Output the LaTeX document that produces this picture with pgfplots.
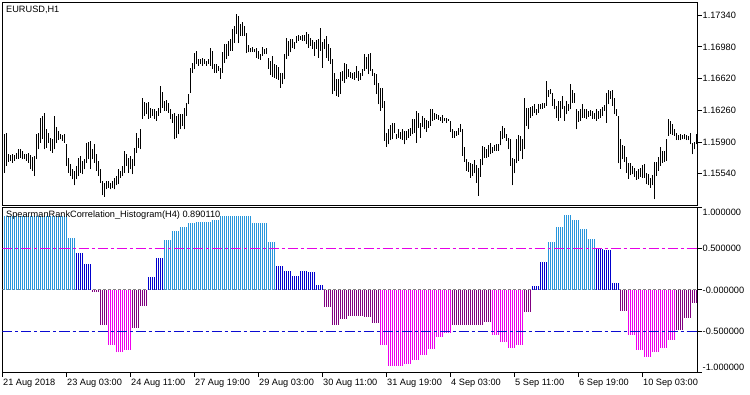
\documentclass[border=0pt]{standalone}
\usepackage{fontspec}
\setmainfont{Liberation Sans}
\usepackage{pgfplots}
\usepackage{pgfplotstable}
\pgfplotsset{compat=1.18}
\definecolor{hlblue}{RGB}{40,150,220}
\definecolor{hdblue}{RGB}{0,0,205}
\definecolor{hpurple}{RGB}{128,0,128}
\definecolor{hmag}{RGB}{238,0,238}
\definecolor{lvlmag}{RGB}{230,0,230}
\definecolor{lvlblue}{RGB}{10,10,210}

\pgfplotstableread{
h l
1.15995 1.15551
1.16006 1.15627
1.15760 1.15673
1.15752 1.15684
1.15760 1.15665
1.15749 1.15684
1.15771 1.15703
1.15816 1.15711
1.15816 1.15722
1.15798 1.15703
1.15760 1.15703
1.15760 1.15684
1.15779 1.15665
1.15749 1.15589
1.15733 1.15570
1.15741 1.15513
1.15987 1.15703
1.16006 1.15816
1.16177 1.15892
1.16195 1.15930
1.16233 1.15816
1.16052 1.15835
1.16006 1.15892
1.15949 1.15798
1.15930 1.15779
1.16195 1.15816
1.16074 1.15892
1.16025 1.15922
1.15987 1.15930
1.15976 1.15911
1.15987 1.15892
1.15873 1.15627
1.15722 1.15551
1.15646 1.15513
1.15589 1.15475
1.15570 1.15407
1.15627 1.15475
1.15722 1.15513
1.15741 1.15551
1.15684 1.15532
1.15711 1.15589
1.15892 1.15665
1.15900 1.15703
1.15911 1.15589
1.15816 1.15703
1.15873 1.15665
1.15760 1.15570
1.15684 1.15513
1.15589 1.15437
1.15456 1.15294
1.15437 1.15279
1.15456 1.15362
1.15456 1.15381
1.15437 1.15362
1.15456 1.15381
1.15494 1.15362
1.15513 1.15407
1.15589 1.15418
1.15570 1.15494
1.15627 1.15513
1.15798 1.15551
1.15760 1.15627
1.15722 1.15551
1.15741 1.15589
1.15703 1.15532
1.15835 1.15627
1.16006 1.15779
1.15949 1.15835
1.16052 1.15816
1.16404 1.16158
1.16355 1.16195
1.16347 1.16214
1.16355 1.16165
1.16290 1.16177
1.16279 1.16195
1.16271 1.16158
1.16252 1.16139
1.16290 1.16195
1.16537 1.16233
1.16469 1.16290
1.16366 1.16252
1.16378 1.16252
1.16347 1.16233
1.16271 1.16158
1.16214 1.16120
1.16233 1.15930
1.16195 1.15949
1.16214 1.15987
1.16214 1.16044
1.16214 1.16082
1.16290 1.16044
1.16347 1.16195
1.16442 1.16328
1.16745 1.16461
1.16802 1.16688
1.16916 1.16726
1.16935 1.16783
1.16840 1.16764
1.16840 1.16783
1.16859 1.16764
1.16840 1.16783
1.16821 1.16764
1.16840 1.16783
1.16972 1.16764
1.16935 1.16726
1.16783 1.16688
1.16783 1.16688
1.16764 1.16707
1.16745 1.16620
1.16916 1.16688
1.17010 1.16802
1.17010 1.16840
1.17048 1.16878
1.17067 1.16935
1.17181 1.16935
1.17219 1.17029
1.17351 1.17124
1.17325 1.17022
1.17238 1.17105
1.17257 1.17105
1.17219 1.17105
1.17135 1.16908
1.16999 1.16916
1.16972 1.16916
1.16984 1.16923
1.16961 1.16916
1.16972 1.16859
1.16935 1.16840
1.16897 1.16832
1.16984 1.16878
1.16961 1.16897
1.16972 1.16897
1.16859 1.16726
1.16821 1.16658
1.16878 1.16643
1.16783 1.16631
1.16772 1.16620
1.16756 1.16605
1.16688 1.16518
1.16681 1.16556
1.16897 1.16612
1.17086 1.16840
1.17048 1.16878
1.17075 1.16916
1.17075 1.16972
1.17037 1.16953
1.17105 1.17029
1.17113 1.17048
1.17105 1.17059
1.17113 1.17048
1.17113 1.17048
1.17151 1.17010
1.17124 1.16972
1.17086 1.16991
1.17059 1.16953
1.17037 1.16878
1.17059 1.16953
1.17075 1.16859
1.17189 1.16935
1.17037 1.16745
1.17067 1.16953
1.17105 1.16859
1.17010 1.16821
1.16972 1.16783
1.16840 1.16442
1.16688 1.16480
1.16620 1.16423
1.16612 1.16415
1.16696 1.16442
1.16707 1.16594
1.16794 1.16574
1.16783 1.16620
1.16726 1.16643
1.16696 1.16631
1.16688 1.16620
1.16696 1.16605
1.16764 1.16631
1.16707 1.16594
1.16688 1.16605
1.16726 1.16650
1.16897 1.16707
1.16870 1.16726
1.16897 1.16669
1.16908 1.16707
1.16726 1.16650
1.16688 1.16544
1.16669 1.16442
1.16574 1.16328
1.16518 1.16252
1.16518 1.16290
1.16366 1.15911
1.15999 1.15847
1.16052 1.15873
1.16090 1.15922
1.16112 1.15930
1.16112 1.15999
1.15987 1.15930
1.16044 1.15949
1.16014 1.15930
1.16044 1.15922
1.16025 1.15873
1.16025 1.15922
1.16052 1.15949
1.16063 1.15968
1.16158 1.15987
1.16165 1.16006
1.16252 1.15892
1.16233 1.16063
1.16120 1.15949
1.16195 1.16074
1.16177 1.16044
1.16150 1.16014
1.16139 1.16063
1.16279 1.16082
1.16271 1.16139
1.16226 1.16150
1.16214 1.16158
1.16203 1.16150
1.16188 1.16139
1.16203 1.16120
1.16177 1.16139
1.16177 1.16120
1.16158 1.16139
1.16139 1.16014
1.16052 1.15949
1.16025 1.15949
1.16025 1.15968
1.16063 1.15976
1.16101 1.16014
1.16052 1.15741
1.15847 1.15673
1.15711 1.15570
1.15673 1.15559
1.15665 1.15494
1.15646 1.15513
1.15695 1.15544
1.15635 1.15437
1.15608 1.15286
1.15711 1.15506
1.15854 1.15635
1.15847 1.15722
1.15824 1.15722
1.15862 1.15733
1.15892 1.15760
1.15847 1.15779
1.15862 1.15798
1.15873 1.15798
1.15873 1.15798
1.16025 1.15862
1.16082 1.15930
1.16063 1.15949
1.15987 1.15911
1.15949 1.15816
1.15930 1.15627
1.15722 1.15407
1.15703 1.15544
1.15930 1.15657
1.15976 1.15684
1.15968 1.15798
1.15930 1.15703
1.16404 1.15816
1.16290 1.16082
1.16290 1.16044
1.16302 1.16177
1.16309 1.16195
1.16328 1.16233
1.16279 1.16203
1.16328 1.16233
1.16328 1.16271
1.16340 1.16279
1.16347 1.16290
1.16594 1.16309
1.16491 1.16415
1.16507 1.16442
1.16461 1.16309
1.16385 1.16271
1.16309 1.16177
1.16366 1.16139
1.16366 1.16177
1.16423 1.16271
1.16309 1.16139
1.16366 1.16214
1.16328 1.16252
1.16556 1.16271
1.16491 1.16347
1.16461 1.16347
1.16271 1.16044
1.16252 1.16127
1.16279 1.16139
1.16328 1.16177
1.16271 1.16177
1.16279 1.16158
1.16252 1.16188
1.16264 1.16195
1.16252 1.16165
1.16233 1.16158
1.16271 1.16139
1.16252 1.16158
1.16279 1.16177
1.16302 1.16195
1.16317 1.16252
1.16453 1.16120
1.16491 1.16328
1.16480 1.16385
1.16491 1.16309
1.16404 1.16214
1.16271 1.16195
1.16195 1.15657
1.15930 1.15597
1.15862 1.15703
1.15854 1.15673
1.15733 1.15551
1.15665 1.15483
1.15665 1.15521
1.15627 1.15532
1.15608 1.15506
1.15570 1.15468
1.15589 1.15475
1.15608 1.15506
1.15635 1.15494
1.15646 1.15494
1.15544 1.15418
1.15532 1.15407
1.15494 1.15381
1.15521 1.15407
1.15673 1.15248
1.15673 1.15513
1.15733 1.15570
1.15847 1.15627
1.15798 1.15665
1.15798 1.15673
1.15938 1.15684
1.16165 1.15968
1.16139 1.15987
1.16101 1.15976
1.16052 1.15968
1.16006 1.15922
1.15976 1.15922
1.15987 1.15922
1.15976 1.15930
1.15987 1.15930
1.15976 1.15922
1.15968 1.15922
1.15999 1.15873
1.15892 1.15760
1.15900 1.15816
1.15987 1.15873
}\price

\pgfplotstableread{
k v
0 0.89
1 0.89
2 0.89
3 0.89
4 0.89
5 0.89
6 0.89
7 0.89
8 0.63
9 0.45
10 0.31
11 -0.02
12 -0.43
13 -0.67
14 -0.755
15 -0.73
16 -0.46
17 -0.19
18 0.15
19 0.38
20 0.60
21 0.71
22 0.755
23 0.81
24 0.82
25 0.82
26 0.84
27 0.89
28 0.89
29 0.89
30 0.89
31 0.81
32 0.81
33 0.58
34 0.29
35 0.23
36 0.17
37 0.23
38 0.22
39 0.06
40 -0.21
41 -0.43
42 -0.35
43 -0.31
44 -0.32
45 -0.33
46 -0.40
47 -0.67
48 -0.92
49 -0.92
50 -0.895
51 -0.85
52 -0.79
53 -0.71
54 -0.57
55 -0.52
56 -0.42
57 -0.43
58 -0.42
59 -0.42
60 -0.39
61 -0.55
62 -0.635
63 -0.70
64 -0.66
65 -0.27
66 0.05
67 0.34
68 0.58
69 0.755
70 0.90
71 0.84
72 0.74
73 0.61
74 0.49
75 0.48
76 0.08
77 -0.25
78 -0.54
79 -0.73
80 -0.81
81 -0.755
82 -0.70
83 -0.61
84 -0.49
85 -0.34
86 -0.16
}\hist

\begin{document}
\begin{tikzpicture}
\useasboundingbox (0pt,0pt) rectangle (750pt,394pt);
\pgfplotsset{every axis/.append style={
  scale only axis, xmin=-1, xmax=346.5,
  axis line style={line width=0.9pt},
  tick style={black, line width=0.8pt},
  tick align=outside, major tick length=4pt,
  every tick label/.append style={font=\fontsize{9.2}{11}\selectfont, inner sep=1pt},
  ytick pos=right, yticklabel pos=right,
  yticklabel style={anchor=west, xshift=0pt},
}}
% price panel
\begin{axis}[at={(2.5pt,391.5pt)}, anchor=north west, width=695pt, height=203pt,
  ymin=1.15178, ymax=1.17484, xtick=\empty,
  ytick={1.15540,1.15900,1.16260,1.16620,1.16980,1.17340},
  yticklabels={1.15540,1.15900,1.16260,1.16620,1.16980,1.17340}]
\addplot[draw=none, mark=none, forget plot,
  error bars/.cd, y dir=plus, y explicit, error mark=none,
  error bar style={draw=black, line width=1pt, solid}]
  table[x expr=\coordindex, y=l, y error expr=\thisrow{h}-\thisrow{l}] {\price};
\node[anchor=west, inner sep=0pt, font=\fontsize{9.2}{11}\selectfont, xshift=3.5pt, yshift=-7.5pt] at (rel axis cs:0,1) {EURUSD,H1};
\end{axis}
% histogram panel
\begin{axis}[at={(2.5pt,187pt)}, anchor=north west, width=695pt, height=165.7pt,
  ymin=-1, ymax=1,
  xtick={-1,31,63,95,127,159,191,223,255,287,319},
  xticklabels={21 Aug 2018,23 Aug 03:00,24 Aug 11:00,27 Aug 19:00,29 Aug 03:00,30 Aug 11:00,31 Aug 19:00,4 Sep 03:00,5 Sep 11:00,6 Sep 19:00,10 Sep 03:00},
  xtick pos=left,
  xticklabel style={anchor=north west, xshift=-0.5pt, yshift=-1.5pt},
  ytick={-1,-0.5,0,0.5,1},
  yticklabels={\raisebox{2.2pt}[0pt][0pt]{-1.000000},-0.500000,-0.000000,0.500000,\raisebox{-9pt}[0pt][0pt]{1.000000}}]
\addplot[gray, line width=0.8pt, dash pattern=on 3pt off 2pt, forget plot] coordinates {(-1,0) (346.5,0)};
\pgfplotsinvokeforeach{0,1,2,3}{
  \addplot[ycomb, draw=hlblue, line width=1pt, mark=none, forget plot, restrict y to domain=0.5:2]
    table[x expr={4*\thisrow{k}+#1}, y=v] {\hist};
  \addplot[ycomb, draw=hdblue, line width=1pt, mark=none, forget plot, restrict y to domain=0:0.5]
    table[x expr={4*\thisrow{k}+#1}, y=v] {\hist};
  \addplot[ycomb, draw=hpurple, line width=1pt, mark=none, forget plot, restrict y to domain=-0.5:0]
    table[x expr={4*\thisrow{k}+#1}, y=v] {\hist};
  \addplot[ycomb, draw=hmag, line width=1pt, mark=none, forget plot, restrict y to domain=-2:-0.5]
    table[x expr={4*\thisrow{k}+#1}, y=v] {\hist};
}
\addplot[lvlmag, line width=1pt, dash pattern=on 10pt off 3pt on 3pt off 3pt, forget plot] coordinates {(-1,0.5) (346.5,0.5)};
\addplot[lvlblue, line width=1pt, dash pattern=on 10pt off 3pt on 3pt off 3pt, forget plot] coordinates {(-1,-0.5) (346.5,-0.5)};
\node[anchor=west, inner sep=0pt, font=\fontsize{9.2}{11}\selectfont, xshift=3.5pt, yshift=-8pt] at (rel axis cs:0,1) {SpearmanRankCorrelation\_Histogram(H4) 0.890110};
\end{axis}
\end{tikzpicture}
\end{document}
